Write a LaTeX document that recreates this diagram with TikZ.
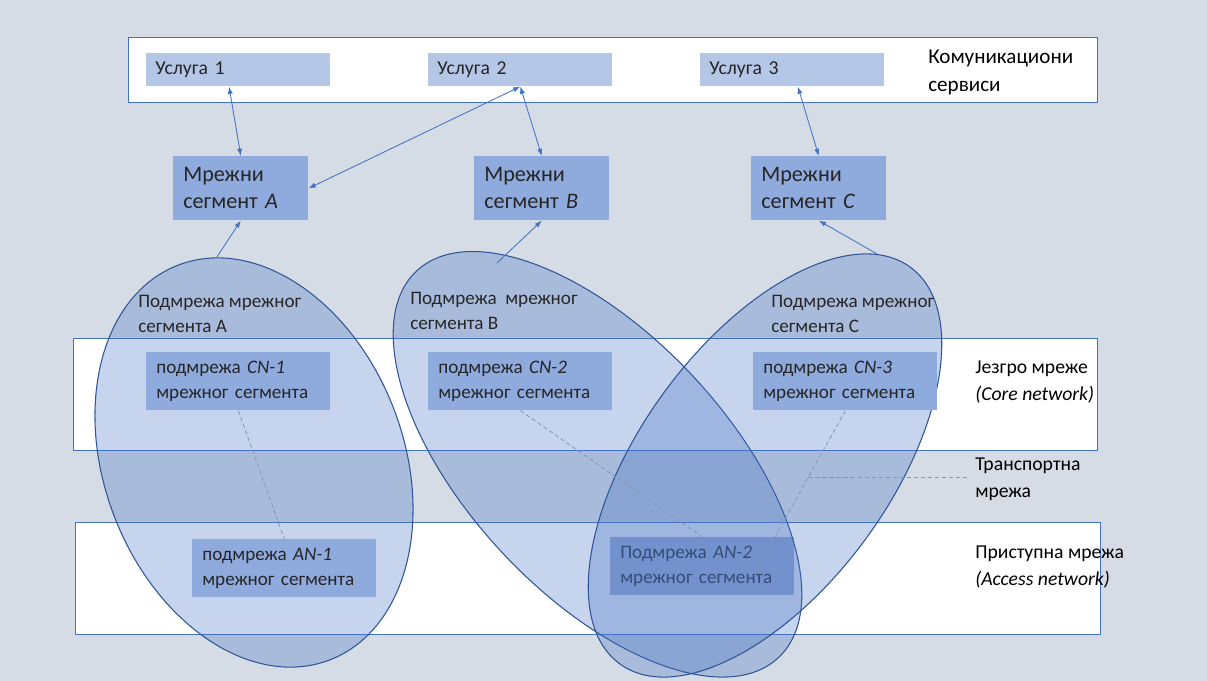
\documentclass[tikz,border=0pt]{standalone}
\usepackage{fontspec}
\setmainfont{Carlito}
\usetikzlibrary{arrows.meta,calc,shapes.geometric}

\definecolor{paper}{HTML}{D6DCE5}
\definecolor{frameblue}{HTML}{4472C4}
\definecolor{svcfill}{HTML}{B4C7E7}
\definecolor{segfill}{HTML}{8FAADC}
\definecolor{hiddenfill}{HTML}{A3B3D9}
\definecolor{netline}{HTML}{2F5597}
\definecolor{dashgray}{HTML}{8497B0}
\definecolor{ink}{HTML}{262626}

\begin{document}
\begin{tikzpicture}[x=0.025cm, y=-0.025cm, >={Latex[length=1.8mm,width=1.3mm]},
  band/.style={draw=frameblue, line width=0.6pt, fill=white},
  svcbox/.style={fill=svcfill, anchor=north west, minimum width=4.6cm,
    minimum height=0.825cm, inner xsep=0.225cm, text width=4.15cm,
    align=left, text=ink, font=\fontsize{14}{16}\selectfont},
  segbox/.style={fill=segfill, anchor=north west, minimum width=3.375cm,
    minimum height=1.6cm, inner xsep=0.25cm, text width=2.875cm,
    align=left, text=ink, font=\fontsize{15.8}{19}\selectfont},
  subbox/.style={fill=segfill, anchor=north west, minimum width=4.6cm,
    minimum height=1.45cm, inner xsep=0.25cm, text width=4.1cm,
    align=left, text=ink, font=\fontsize{13.6}{17.8}\selectfont},
  subnet/.style={ellipse, draw=netline, line width=0.75pt, fill=frameblue,
    fill opacity=0.3, inner sep=0pt},
  netlabel/.style={anchor=north west, inner sep=0pt, align=left, text=ink,
    font=\fontsize{13.6}{17.8}\selectfont},
  sidelabel/.style={anchor=north west, inner sep=0pt, align=left, text=black,
    font=\fontsize{14}{19}\selectfont},
  link/.style={draw=dashgray, line width=0.6pt, dash pattern=on 3pt off 2pt},
  uplink/.style={draw=frameblue, line width=0.6pt}]

  \useasboundingbox (0,0) rectangle (1207,681);
  \fill [paper] (0,0) rectangle (1207,681);

  % layers:
  \draw [band] (128,37) rectangle (1097,102);
  \draw [band] (73,338) rectangle (1097,450);
  \draw [band] (75,522) rectangle (1100,634);

  % services:
  \foreach \x/\n in {146/1, 428/2, 700/3}
    \node [svcbox] (u\n) at (\x,53) {Услуга \n};
  \node [sidelabel, font=\fontsize{15}{19.5}\selectfont] (svclab) at (928,50)
    {Комуникациони\\сервиси};

  % access subnet lying under the overlap:
  \node [subbox, fill=hiddenfill] (an2) at (610,537) {Подмрежа \textit{AN-2}\\мрежног сегмента};

  % subnets of the segments:
  \node [subnet, minimum width=10.57cm, minimum height=7.485cm, rotate=111]
    (netA) at (254,462.5) {};
  \node [subnet, minimum width=13.235cm, minimum height=6.495cm, rotate=-46.9]
    (netB) at (597.5,464.3) {};
  \node [subnet, minimum width=12.29cm, minimum height=6.23cm, rotate=53.75]
    (netC) at (765,465.5) {};

  \node [netlabel] (labA) at (138,295) {Подмрежа мрежног\\сегмента A};
  \node [netlabel] (labB) at (410,292) {Подмрежа\ \ мрежног\\сегмента B};
  \node [netlabel] (labC) at (771,295) {Подмрежа мрежног\\сегмента C};

  % core and access subnets:
  \foreach \x/\n in {146/1, 428/2, 753/3}
    \node [subbox] (cn\n) at (\x,352) {подмрежа \textit{CN-\n}\\мрежног сегмента};
  \node [subbox] (an1) at (192,539) {подмрежа \textit{AN-1}\\мрежног сегмента};

  % layer names:
  \node [sidelabel] (corelab) at (975,361) {Језгро мреже\\\textit{(Core network)}};
  \node [sidelabel] (translab) at (975,458) {Транспортна\\мрежа};
  \node [sidelabel] (acclab) at (975,546) {Приступна мрежа\\\textit{(Access network)}};

  % segments:
  \foreach \x/\n in {173/A, 474/B, 751/C}
    \node [segbox] (seg\n) at (\x,156) {Мрежни\\сегмент \textit{\n}};

  % dashed links:
  \coordinate (an2in) at (755,573);
  \draw [link] (cn1.south) -- (an1.north);
  \draw [link] (cn2.south) -- (an2.north);
  \draw [link] (cn3.south) -- (an2in);
  \coordinate (tr) at ($(cn3.south)!0.41!(an2in)$);
  \draw [link] (tr) -- ($(tr -| translab.west)+(-7,0)$);

  % arrows:
  \draw [uplink, <->] ($(u1.south west)!0.45!(u1.south east)$) -- (segA.north);
  \draw [uplink, <->] (u2.south) -- (segA.east);
  \draw [uplink, <->] (u2.south) -- (segB.north);
  \draw [uplink, <->] ($(u3.south west)!0.53!(u3.south east)$) -- (segC.north);
  \coordinate (topA) at (217,257);
  \coordinate (topB) at (497,263);
  \coordinate (topC) at (877,254);
  \draw [uplink, ->] (topA) -- (segA.south);
  \draw [uplink, ->] (topB) -- (segB.south);
  \draw [uplink, ->] (topC) -- (segC.south);
\end{tikzpicture}
\end{document}
